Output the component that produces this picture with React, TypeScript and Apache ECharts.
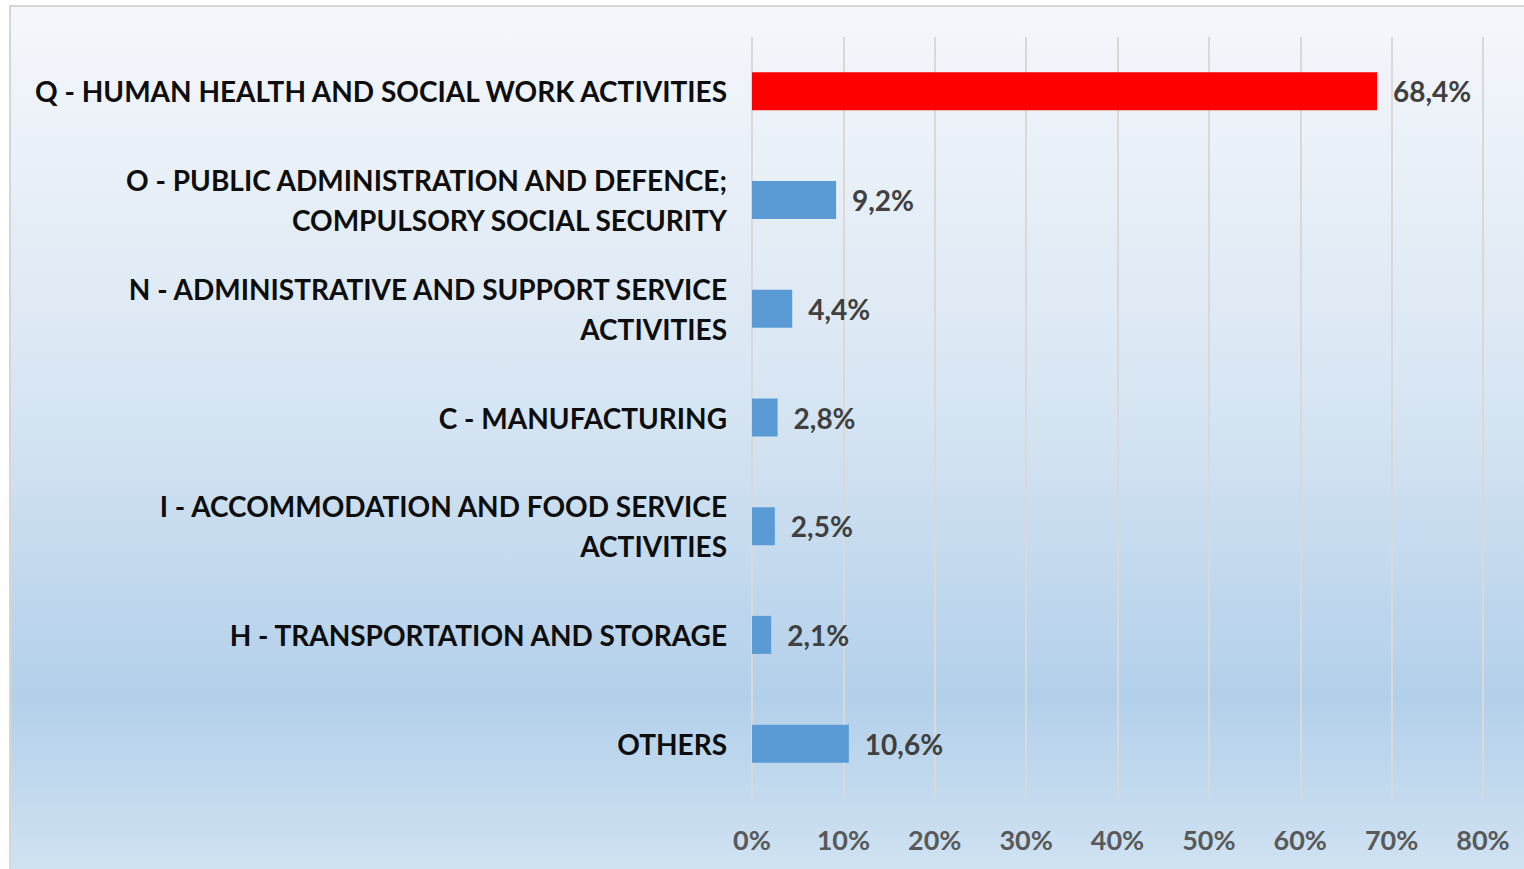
import React, { useEffect, useRef } from "react";
import * as echarts from "echarts";

const categories = [
  "Q - HUMAN HEALTH AND SOCIAL WORK ACTIVITIES",
  "O - PUBLIC ADMINISTRATION AND DEFENCE;\nCOMPULSORY SOCIAL SECURITY",
  "N - ADMINISTRATIVE AND SUPPORT SERVICE\nACTIVITIES",
  "C - MANUFACTURING",
  "I - ACCOMMODATION AND FOOD SERVICE\nACTIVITIES",
  "H - TRANSPORTATION AND STORAGE",
  "OTHERS",
];
const values = [68.4, 9.2, 4.4, 2.8, 2.5, 2.1, 10.6];
const highlightIndex = 0;
const xMin = 0;
const xMax = 80;
const xInterval = 10;

const FONT = "Lato, 'Open Sans', sans-serif";

export default function App() {
  const ref = useRef<HTMLDivElement>(null);
  useEffect(() => {
    if (!ref.current) return;
    const chart = echarts.init(ref.current, undefined, { renderer: "svg" });
    chart.setOption({
      animation: false,
      backgroundColor: {
        type: "linear",
        x: 0,
        y: 0,
        x2: 0,
        y2: 1,
        colorStops: [
          { offset: 0, color: "#f5f7fb" },
          { offset: 0.45, color: "#d8e6f3" },
          { offset: 0.8, color: "#b3d0ea" },
          { offset: 1, color: "#cfe2f2" },
        ],
      },
      grid: { left: 741, width: 731, top: 30, height: 761, containLabel: false },
      xAxis: {
        type: "value",
        min: xMin,
        max: xMax,
        interval: xInterval,
        axisLine: { show: false },
        axisTick: { show: false },
        splitLine: { show: true, lineStyle: { color: "#d9d9d9", width: 2 } },
        axisLabel: {
          formatter: "{value}%",
          color: "#595959",
          fontFamily: FONT,
          fontWeight: "bold",
          fontSize: 27,
          margin: 28,
        },
      },
      yAxis: {
        type: "category",
        inverse: true,
        data: categories,
        axisLine: { show: false },
        axisTick: { show: false },
        axisLabel: {
          color: "#0d0d0d",
          fontFamily: FONT,
          fontWeight: "bold",
          fontSize: 28,
          lineHeight: 40,
          margin: 25,
          align: "right",
        },
      },
      series: [
        {
          type: "bar",
          data: values.map((v, i) => ({
            value: v,
            itemStyle: { color: i === highlightIndex ? "#ff0000" : "#5b9bd5" },
          })),
          barWidth: 38,
          label: {
            show: true,
            position: "right",
            distance: 16,
            color: "#404040",
            fontFamily: FONT,
            fontWeight: "bold",
            fontSize: 28,
            formatter: (p: any) => String(p.value).replace(".", ",") + "%",
          },
        },
      ],
    });
    return () => chart.dispose();
  }, []);
  return (
    <div
      style={{
        position: "absolute",
        left: 9,
        top: 5,
        borderLeft: "2px solid #d6d6d6",
        borderTop: "2px solid #d6d6d6",
        width: 1513,
        height: 862,
        overflow: "hidden",
      }}
    >
      <div ref={ref} style={{ width: 1513, height: 862 }} />
    </div>
  );
}
